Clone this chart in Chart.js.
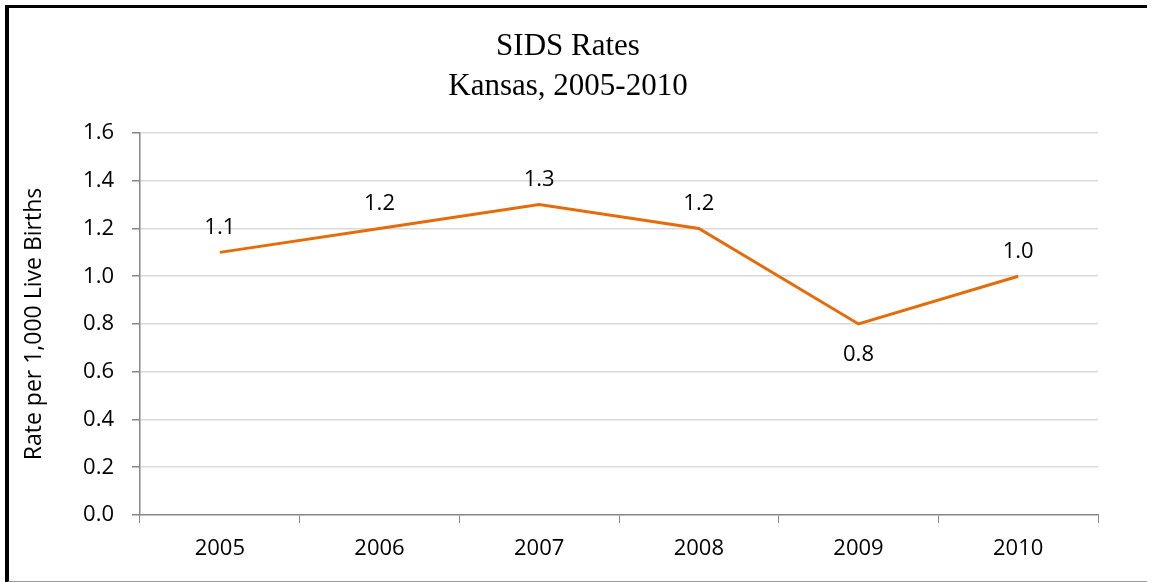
<!DOCTYPE html>
<html>
<head>
<meta charset="utf-8">
<script src="https://cdn.jsdelivr.net/npm/chart.js@4.4.0/dist/chart.umd.min.js"></script>
<style>
  html, body { margin: 0; padding: 0; background: #fff; }
  #wrap { position: relative; width: 1152px; height: 582px; }
  #frame {
    position: absolute; left: 5px; top: 5px; width: 1138px; height: 573px;
    border-left: 4px solid #000; border-top: 3px solid #000; border-bottom: 2px solid #999;
    pointer-events: none;
  }
</style>
</head>
<body>
<div id="wrap">
  <canvas id="chart" width="1152" height="582"></canvas>
  <div id="frame"></div>
</div>
<script>
// chart data
const years = ['2005', '2006', '2007', '2008', '2009', '2010'];
const sidsRate = [1.1, 1.2, 1.3, 1.2, 0.8, 1.0];
const yTicks = [0, 0.2, 0.4, 0.6, 0.8, 1.0, 1.2, 1.4, 1.6];
const labelsBelow = ['2009'];

const labelFont = '22px "Open Sans"';

// simple value labels above (or below) each point
const pointLabels = {
  id: 'pointLabels',
  afterDatasetsDraw(chart) {
    const ctx = chart.ctx;
    const meta = chart.getDatasetMeta(0);
    ctx.save();
    ctx.font = labelFont;
    ctx.fillStyle = '#000';
    ctx.textAlign = 'center';
    ctx.textBaseline = 'middle';
    meta.data.forEach((pt, i) => {
      const below = labelsBelow.includes(years[i]);
      const y = below ? pt.y + 31 : pt.y - 25;
      ctx.fillText(sidsRate[i].toFixed(1), pt.x, y);
    });
    ctx.restore();
  }
};

const ctx = document.getElementById('chart').getContext('2d');
new Chart(ctx, {
  type: 'line',
  data: {
    labels: years,
    datasets: [{
      data: sidsRate,
      borderColor: '#E46C0A',
      borderWidth: 3,
      pointRadius: 0,
      tension: 0,
    }],
  },
  options: {
    responsive: false,
    animation: false,
    layout: { padding: { left: 38, right: 54, top: 0, bottom: 0 } },
    plugins: {
      legend: { display: false },
      tooltip: { enabled: false },
      title: {
        display: true,
        text: ['SIDS Rates', 'Kansas, 2005-2010'],
        color: '#000',
        font: { family: '"Liberation Serif"', size: 31, weight: 'normal', lineHeight: 1.29 },
        padding: { top: 27, bottom: 26 },
      },
    },
    scales: {
      x: {
        offset: true,
        grid: { offset: true, drawOnChartArea: false, tickLength: 8, tickColor: '#868686' },
        border: { color: '#868686', width: 1.5 },
        ticks: { color: '#000', font: { family: '"Open Sans"', size: 22 }, padding: 13 },
        afterFit(scale) { scale.height = 582 - 515; },
      },
      y: {
        min: 0,
        max: 1.6,
        afterBuildTicks(scale) { scale.ticks = yTicks.map(v => ({ value: v })); },
        grid: {
          color: c => (c.tick && c.tick.value === 0 ? 'rgba(0,0,0,0)' : '#D9D9D9'),
          lineWidth: 1.5,
          tickLength: 8,
          tickColor: '#868686',
        },
        border: { color: '#868686', width: 1.5 },
        ticks: {
          color: '#000',
          font: { family: '"Open Sans"', size: 22 },
          padding: 18,
          callback: v => v.toFixed(1),
        },
        title: {
          display: true,
          text: 'Rate per 1,000 Live Births',
          color: '#000',
          font: { family: '"Open Sans"', size: 23 },
          padding: { top: -17, bottom: 0 },
        },
        afterFit(scale) { scale.width = 102; },
      },
    },
  },
  plugins: [pointLabels],
});
</script>
</body>
</html>
